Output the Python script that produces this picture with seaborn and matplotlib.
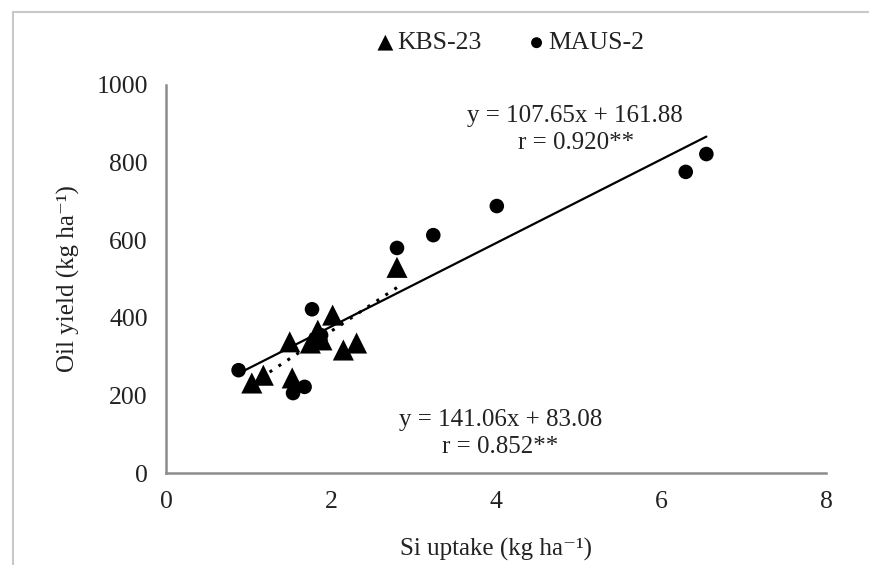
import matplotlib
matplotlib.use("Agg")
import matplotlib.pyplot as plt
import seaborn as sns
import pandas as pd
from matplotlib.patches import Rectangle

# Si uptake (kg/ha) e produtividade de oleo (kg/ha)
kbs_x = [1.04, 1.18, 1.50, 1.53, 1.75, 1.84, 1.89, 2.02, 2.15, 2.31, 2.80]
kbs_y = [232, 252, 338, 245, 335, 368, 343, 407, 317, 335, 530]
maus_x = [0.88, 1.54, 1.68, 1.77, 1.88, 2.80, 3.24, 4.01, 6.30, 6.55]
maus_y = [265, 206, 222, 422, 355, 580, 613, 688, 776, 822]

# coeficientes das retas mostradas no grafico
kbs_fit = (141.06, 83.08)
maus_fit = (107.65, 161.88)

x_ticks = [0, 2, 4, 6, 8]
y_ticks = [0, 200, 400, 600, 800, 1000]

sns.set_theme(style="white")
plt.rcParams["font.family"] = ["Liberation Serif", "DejaVu Serif"]

kbs = pd.DataFrame({"x": kbs_x, "y": kbs_y})
maus = pd.DataFrame({"x": maus_x, "y": maus_y})

fig = plt.figure(figsize=(8.7, 5.65), dpi=100)
ax = fig.add_axes([0.1908, 0.1628, 0.7586, 0.6868])

# retas de regressao
xm = [min(maus_x), max(maus_x)]
sns.lineplot(x=xm, y=[maus_fit[0] * v + maus_fit[1] for v in xm], ax=ax,
             color="black", linewidth=1.6, zorder=2)
xk = [min(kbs_x), max(kbs_x)]
sns.lineplot(x=xk, y=[kbs_fit[0] * v + kbs_fit[1] for v in xk], ax=ax,
             color="black", linewidth=2.2, linestyle=(0, (1, 2.5)), zorder=2)

sns.scatterplot(data=maus, x="x", y="y", ax=ax, marker="o", s=110,
                color="black", edgecolor="none", label="MAUS-2", zorder=3)
sns.scatterplot(data=kbs, x="x", y="y", ax=ax, marker="^", s=230,
                color="black", edgecolor="none", label="KBS-23", zorder=4)

ax.set_xlim(0, 8)
ax.set_ylim(0, 1000)
ax.set_xticks(x_ticks)
ax.set_yticks(y_ticks)
ax.tick_params(axis="both", direction="out", length=5, width=1.4,
               color="#8c8c8c", labelsize=18.5, labelcolor="#222222", pad=8)
for side in ["top", "right"]:
    ax.spines[side].set_visible(False)
for side in ["left", "bottom"]:
    ax.spines[side].set_color("#8c8c8c")
    ax.spines[side].set_linewidth(1.8)

ax.set_xlabel("Si uptake (kg ha⁻¹)", fontsize=18, color="#222222", labelpad=18)
ax.set_ylabel("Oil yield (kg ha⁻¹)", fontsize=18, color="#222222", labelpad=12)

ax.text(4.96, 920, "y = 107.65x + 161.88", fontsize=18, ha="center",
        va="center", color="#222222")
ax.text(4.97, 850, "r = 0.920**", fontsize=18, ha="center", va="center",
        color="#222222")
ax.text(4.06, 137, "y = 141.06x + 83.08", fontsize=18, ha="center",
        va="center", color="#222222")
ax.text(4.05, 68, "r = 0.852**", fontsize=18, ha="center", va="center",
        color="#222222")

handles, labels = ax.get_legend_handles_labels()
ax.get_legend().remove()
order = [labels.index("KBS-23"), labels.index("MAUS-2")]
fig.legend([handles[i] for i in order], [labels[i] for i in order],
           loc="center", bbox_to_anchor=(0.585, 0.924), ncol=2,
           frameon=False, fontsize=18.5, markerscale=0.75, handletextpad=0.0,
           columnspacing=1.7, handlelength=0.9, labelcolor="#222222")

# moldura cinza do grafico
fig.patches.append(Rectangle((13 / 870, -0.05), 1.1, 0.05 + 1 - 12 / 565,
                             transform=fig.transFigure, fill=False,
                             edgecolor="#c8c8c8", linewidth=1.5))

fig.savefig("out.png", dpi=100)
